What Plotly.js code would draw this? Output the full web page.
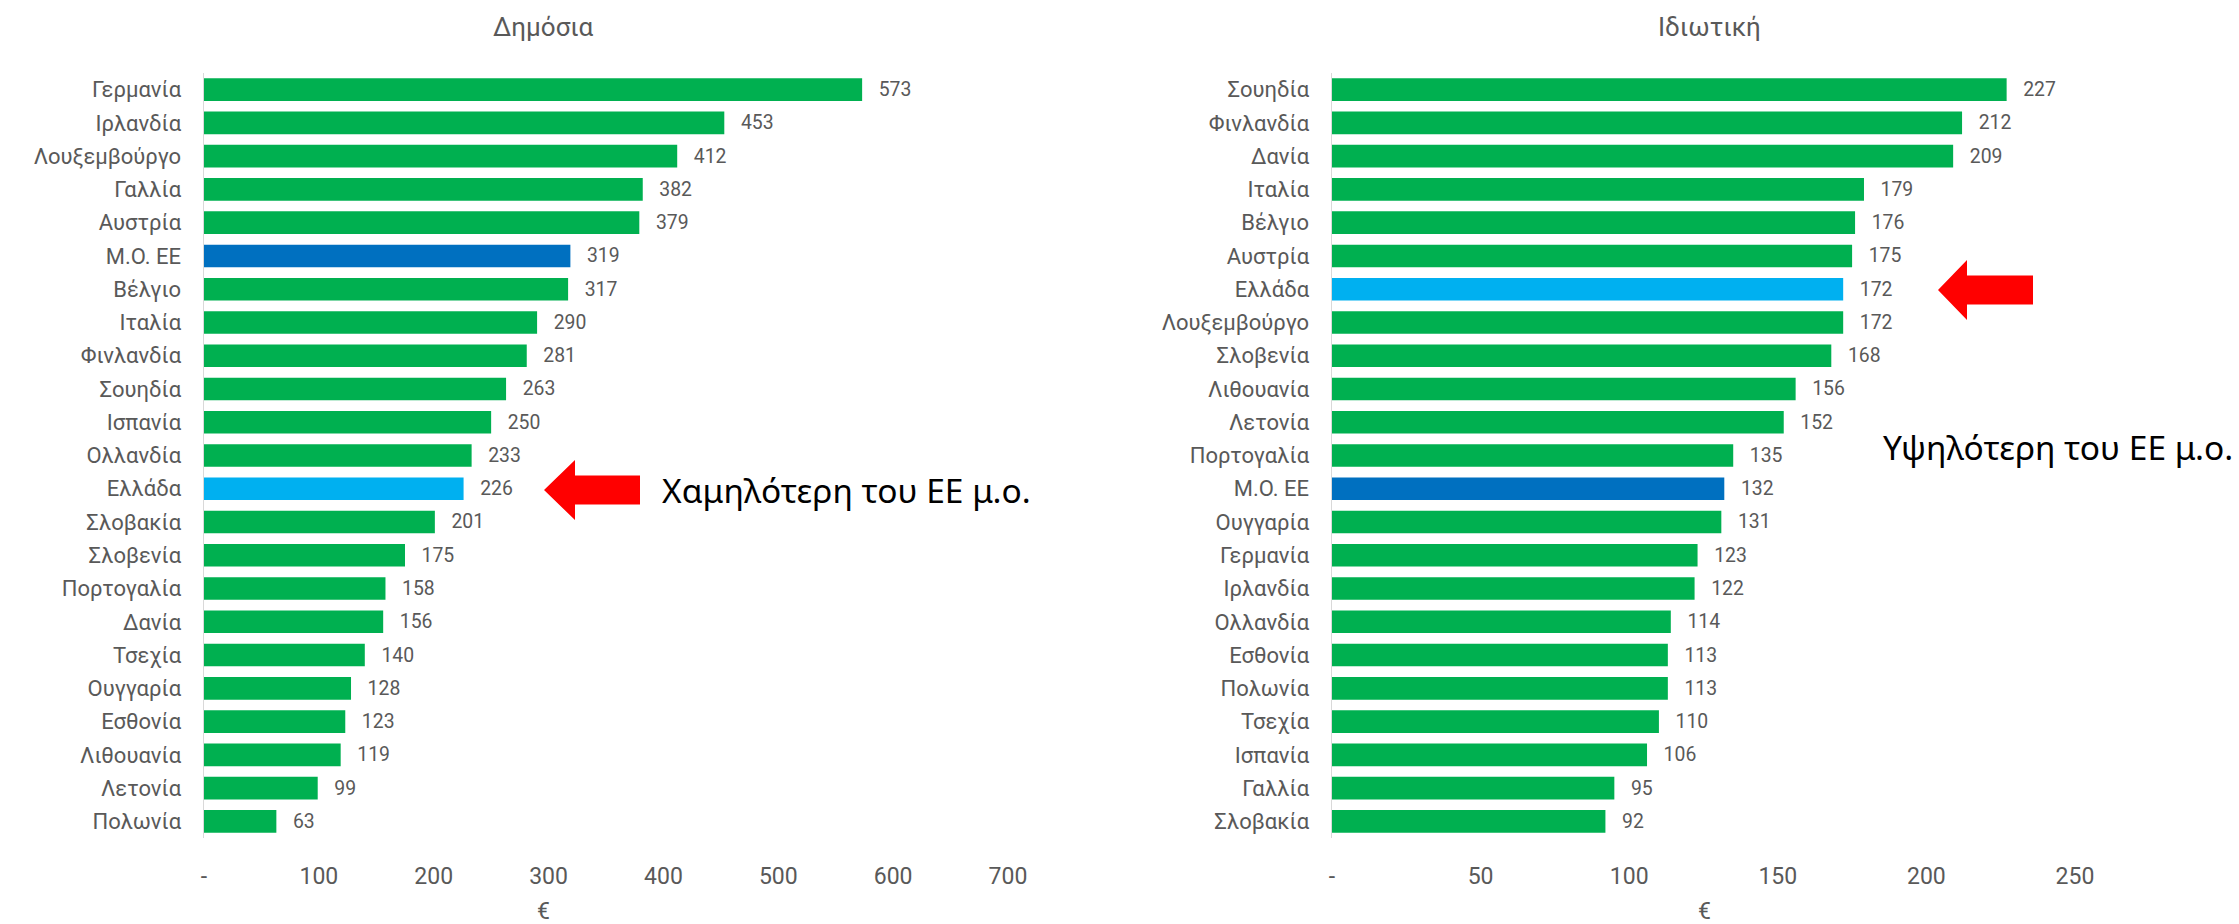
<!DOCTYPE html>
<html>
<head>
<meta charset="utf-8">
<script src="https://cdn.plot.ly/plotly-3.0.1.min.js"></script>
<style>html,body{margin:0;padding:0;background:#fff;}#chart{width:2239px;height:924px;}</style>
</head>
<body>
<div id="chart"></div>
<script>
// ---- Data ----
const publicCountries = ["Γερμανία","Ιρλανδία","Λουξεμβούργο","Γαλλία","Αυστρία","Μ.Ο. ΕΕ","Βέλγιο","Ιταλία","Φινλανδία","Σουηδία","Ισπανία","Ολλανδία","Ελλάδα","Σλοβακία","Σλοβενία","Πορτογαλία","Δανία","Τσεχία","Ουγγαρία","Εσθονία","Λιθουανία","Λετονία","Πολωνία"];
const publicValues = [573,453,412,382,379,319,317,290,281,263,250,233,226,201,175,158,156,140,128,123,119,99,63];

const privateCountries = ["Σουηδία","Φινλανδία","Δανία","Ιταλία","Βέλγιο","Αυστρία","Ελλάδα","Λουξεμβούργο","Σλοβενία","Λιθουανία","Λετονία","Πορτογαλία","Μ.Ο. ΕΕ","Ουγγαρία","Γερμανία","Ιρλανδία","Ολλανδία","Εσθονία","Πολωνία","Τσεχία","Ισπανία","Γαλλία","Σλοβακία"];
const privateValues = [227,212,209,179,176,175,172,172,168,156,152,135,132,131,123,122,114,113,113,110,106,95,92];

const publicTicks = [0,100,200,300,400,500,600,700];
const publicTickText = ["-","100","200","300","400","500","600","700"];
const privateTicks = [0,50,100,150,200,250];
const privateTickText = ["-","50","100","150","200","250"];

const titles = ["Δημόσια","Ιδιωτική"];
const axisTitle = "€";
const noteLow = "Χαμηλότερη του ΕΕ μ.ο.";
const noteHigh = "Υψηλότερη του ΕΕ μ.ο.";

// ---- Style ----
const W = 2239, H = 924, T = 73, B = 86;
const GREEN = "#00B050", EU = "#0070C0", GR = "#00B0F0", GREY = "#595959";
const LABEL = "Roboto, 'Noto Sans', sans-serif";
const NORMAL = "'Noto Sans', 'Open Sans', sans-serif";
function colorFor(c){ return c === "Ελλάδα" ? GR : (c === "Μ.Ο. ΕΕ" ? EU : GREEN); }
const px = x => x / W;
const py = y => (H - B - y) / (H - T - B);

function barTrace(cats, vals, xa, ya){
  return {
    type: "bar", orientation: "h", x: vals, y: cats, xaxis: xa, yaxis: ya,
    marker: {color: cats.map(colorFor), line: {width: 0}},
    text: vals.map(v => "\u00a0\u00a0\u2009" + v), textposition: "outside",
    textfont: {family: LABEL, size: 24, color: GREY},
    cliponaxis: false, hoverinfo: "skip", showlegend: false
  };
}

const data = [
  barTrace(publicCountries, publicValues, "x", "y"),
  barTrace(privateCountries, privateValues, "x2", "y2")
];

function xAxis(domain, range, tv, tt, anchor){
  return {domain: domain, range: range, anchor: anchor, tickvals: tv, ticktext: tt,
    showgrid: false, zeroline: false, showline: false, ticks: "",
    ticklabelstandoff: 22, tickfont: {family: LABEL, size: 23, color: GREY}, fixedrange: true};
}
function yAxis(cats, anchor){
  return {anchor: anchor, type: "category", categoryorder: "array", categoryarray: cats,
    autorange: "reversed", showgrid: false, zeroline: false, showline: true,
    linecolor: "#D9D9D9", linewidth: 1.5, ticks: "", ticklabelstandoff: 17,
    tickfont: {family: LABEL, size: 22, color: GREY}, fixedrange: true};
}

function arrow(tipX, tipY, headBackX, headHalf, shaftHalf, endX){
  const pts = [[tipX, tipY],[headBackX, tipY-headHalf],[headBackX, tipY-shaftHalf],[endX, tipY-shaftHalf],
               [endX, tipY+shaftHalf],[headBackX, tipY+shaftHalf],[headBackX, tipY+headHalf]];
  return {type: "path", xref: "paper", yref: "paper",
    path: "M" + pts.map(p => px(p[0]) + "," + py(p[1])).join(" L") + " Z",
    fillcolor: "#FF0000", line: {width: 0}};
}

const layout = {
  width: W, height: H, paper_bgcolor: "#fff", plot_bgcolor: "#fff",
  margin: {l: 0, r: 0, t: T, b: B}, bargap: 0.32,
  font: {family: LABEL, color: GREY},
  xaxis: xAxis([px(204), px(1008)], [0, 700], publicTicks, publicTickText, "y"),
  yaxis: yAxis(publicCountries, "x"),
  xaxis2: xAxis([px(1332), px(2075)], [0, 250], privateTicks, privateTickText, "y2"),
  yaxis2: yAxis(privateCountries, "x2"),
  shapes: [arrow(544, 490, 575, 30, 14.5, 640), arrow(1938, 290, 1967, 30, 14.5, 2033)],
  annotations: [
    {text: titles[0], x: px(543), y: py(27), xref: "paper", yref: "paper", showarrow: false, xanchor: "center", yanchor: "middle", font: {family: LABEL, size: 26, color: GREY}},
    {text: titles[1], x: px(1709), y: py(27), xref: "paper", yref: "paper", showarrow: false, xanchor: "center", yanchor: "middle", font: {family: LABEL, size: 26, color: GREY}},
    {text: axisTitle, x: px(543), y: py(911), xref: "paper", yref: "paper", showarrow: false, xanchor: "center", yanchor: "middle", font: {family: LABEL, size: 23, color: GREY}},
    {text: axisTitle, x: px(1704), y: py(911), xref: "paper", yref: "paper", showarrow: false, xanchor: "center", yanchor: "middle", font: {family: LABEL, size: 23, color: GREY}},
    {text: noteLow, x: px(660), y: py(490), xref: "paper", yref: "paper", showarrow: false, xanchor: "left", yanchor: "middle", font: {family: NORMAL, size: 33.5, color: "#000"}},
    {text: noteHigh, x: px(1881), y: py(447), xref: "paper", yref: "paper", showarrow: false, xanchor: "left", yanchor: "middle", font: {family: NORMAL, size: 33.5, color: "#000"}}
  ]
};

Plotly.newPlot("chart", data, layout, {displayModeBar: false, staticPlot: true});
</script>
</body>
</html>
